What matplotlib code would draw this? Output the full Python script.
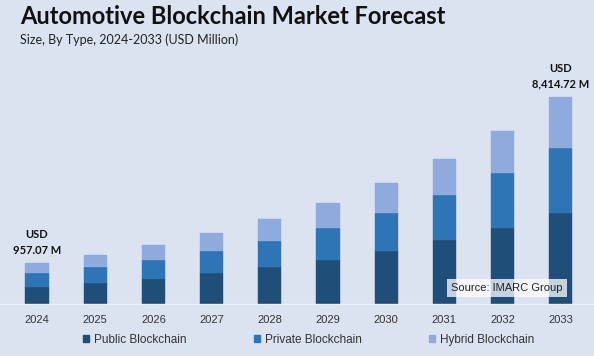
import matplotlib
matplotlib.use("Agg")
import matplotlib.pyplot as plt
from matplotlib.patches import Patch

years = ["2024", "2025", "2026", "2027", "2028", "2029", "2030", "2031", "2032", "2033"]
public = [713, 875, 1038, 1269, 1524, 1795, 2172, 2606, 3105, 3713]
private = [567, 636, 770, 904, 1054, 1309, 1540, 1824, 2205, 2634]
hybrid = [405, 499, 608, 705, 867, 1001, 1204, 1459, 1727, 2067]
series_names = ["Public Blockchain", "Private Blockchain", "Hybrid Blockchain"]
first_label = "USD\n957.07 M"
last_label = "USD\n8,414.72 M"

colors = ["#1f4e79", "#2e75b6", "#8faadc"]
bg = "#dbe3f1"

W, H = 594, 356
fig = plt.figure(figsize=(W / 100, H / 100), dpi=100, facecolor=bg)
base_px = 304.3
top_px = 60
ax = fig.add_axes([0, (H - base_px) / H, 1, (base_px - top_px) / H])
ax.set_facecolor(bg)
ax.set_xlim(-0.636, 9.572)
ax.set_ylim(0, (base_px - top_px) * 40.53)

x = list(range(len(years)))
ax.bar(x, public, width=0.40, color=colors[0], edgecolor=colors[0], linewidth=0.3)
bot2 = public
ax.bar(x, private, width=0.40, bottom=bot2, color=colors[1], edgecolor=colors[1], linewidth=0.3)
bot3 = [a + b for a, b in zip(public, private)]
ax.bar(x, hybrid, width=0.40, bottom=bot3, color=colors[2], edgecolor=colors[2], linewidth=0.3)

for s in ["top", "right", "left"]:
    ax.spines[s].set_visible(False)
ax.spines["bottom"].set_color("#e8edf6")
ax.spines["bottom"].set_linewidth(1.0)
ax.set_yticks([])
ax.set_xticks(x)
ax.set_xticklabels(years, fontsize=8, color="#333333", family="Liberation Sans")
ax.tick_params(axis="x", length=0, pad=8)

totals = [a + b for a, b in zip(bot3, hybrid)]
ax.annotate(first_label, (x[0], totals[0]), xytext=(0, 5), textcoords="offset points",
            ha="center", va="bottom", fontsize=8, fontweight="bold", color="#111111",
            family="Lato", linespacing=1.5)
ax.annotate(last_label, (x[-1], totals[-1]), xytext=(0, 5), textcoords="offset points",
            ha="center", va="bottom", fontsize=8, fontweight="bold", color="#111111",
            family="Lato", linespacing=1.5)

fig.text(20 / W, 1 - 17 / H, "Automotive Blockchain Market Forecast", fontsize=17,
         fontweight="bold", color="#111111", family="Lato", va="center", ha="left")
fig.text(20 / W, 1 - 40 / H, "Size, By Type, 2024-2033 (USD Million)", fontsize=9,
         color="#222222", family="Lato", va="center", ha="left")

fig.text(507 / W, 1 - 288 / H, "Source: IMARC Group", fontsize=8, color="#222222",
         family="Liberation Sans", ha="center", va="center",
         bbox=dict(boxstyle="square,pad=0.35", facecolor="white", edgecolor="none", alpha=0.75))

legend_x = [83, 254, 429]
for name, c, lx in zip(series_names, colors, legend_x):
    leg = fig.legend([Patch(facecolor=c, edgecolor=c)], [name], loc="center left",
                     bbox_to_anchor=(lx / W, 1 - 340 / H), frameon=False,
                     handlelength=0.5, handleheight=0.5, handletextpad=0.4,
                     borderpad=0, borderaxespad=0,
                     prop={"family": "Liberation Sans", "size": 8.5})
    for t in leg.get_texts():
        t.set_color("#333333")

fig.savefig("out.png", dpi=100, facecolor=bg)
